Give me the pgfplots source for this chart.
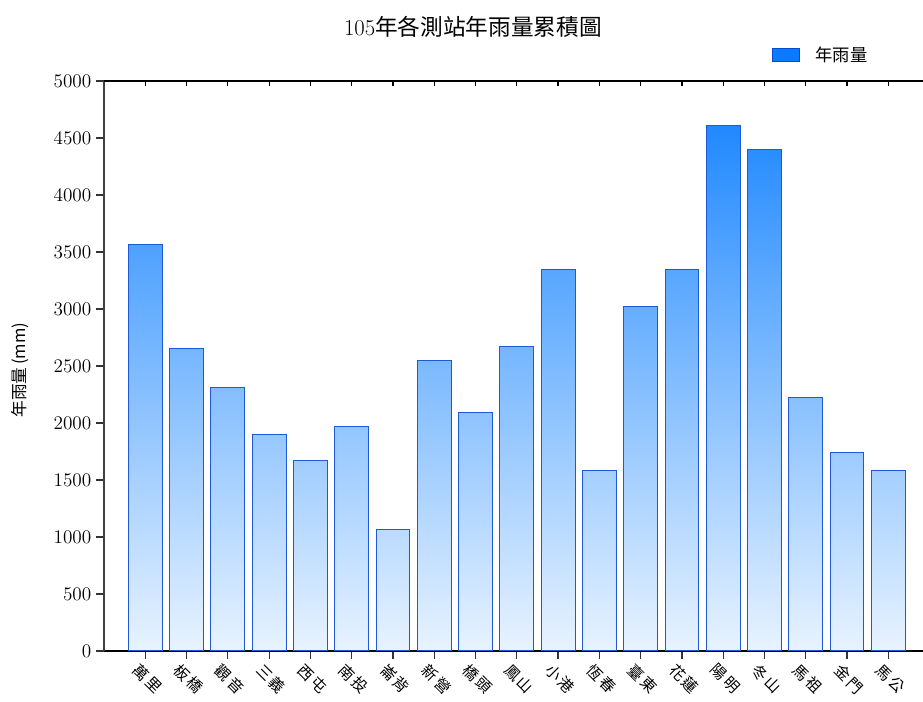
\documentclass[border=0pt]{standalone}
\usepackage{pgfplots}
\pgfplotsset{compat=1.18}
\usepackage{fontspec}
\newfontfamily\cjk{Noto Sans CJK TC}
\definecolor{barbot}{RGB}{232,243,255}
\definecolor{bartop}{RGB}{16,128,255}
\definecolor{baredge}{RGB}{30,90,215}
\definecolor{legfill}{RGB}{10,123,255}
\definecolor{legedge}{RGB}{10,75,205}
\pgfplotsset{rbar/.style={ybar, bar width=0.82, draw=baredge, line width=0.75pt, bottom color=barbot, top color=bartop!#1!barbot, forget plot}}
\begin{document}
\begin{tikzpicture}[x=1pt,y=1pt]
\path[use as bounding box] (0,0) rectangle (692.25,526.5);
\begin{axis}[
  scale only axis, width=614.25pt, height=427.5pt,
  at={(78pt,38.25pt)}, anchor=south west,
  xmin=-1, xmax=18.84, ymin=0, ymax=5000,
  axis x line*=bottom, axis y line*=left,
  axis line style={-},
  x axis line style={black, line width=1pt},
  y axis line style={black!75, line width=1.5pt},
  ytick={0,500,...,5000},
  scaled y ticks=false,
  yticklabel style={/pgf/number format/1000 sep={}, font=\fontsize{13.5}{14}\selectfont},
  xtick={0,...,18},
  xticklabels={萬\,里,板\,橋,觀\,音,三\,義,西\,屯,南\,投,崙\,背,新\,營,橋\,頭,鳳\,山,小\,港,恆\,春,臺\,東,花\,蓮,陽\,明,冬\,山,馬\,祖,金\,門,馬\,公},
  xticklabel style={font=\cjk\fontsize{11.5}{12}\selectfont, rotate=-45, anchor=north west, inner sep=1pt, xshift=-2pt, yshift=-3pt},
  tick align=outside, major tick length=6pt,
  tick style={black!80, line width=0.9pt},
  minor tick num=0,
  legend style={draw=none, fill=none, at={(axis description cs:0.812,1.07)}, anchor=north west,
    font=\cjk\fontsize{13}{13}\selectfont, inner sep=2pt},
  clip=false,
]
\addplot[rbar=71.3] coordinates {(0,3565)};
\addplot[rbar=53.0] coordinates {(1,2650)};
\addplot[rbar=46.3] coordinates {(2,2315)};
\addplot[rbar=37.9] coordinates {(3,1895)};
\addplot[rbar=33.4] coordinates {(4,1670)};
\addplot[rbar=39.3] coordinates {(5,1965)};
\addplot[rbar=21.4] coordinates {(6,1070)};
\addplot[rbar=50.9] coordinates {(7,2545)};
\addplot[rbar=41.9] coordinates {(8,2095)};
\addplot[rbar=53.5] coordinates {(9,2675)};
\addplot[rbar=66.9] coordinates {(10,3345)};
\addplot[rbar=31.7] coordinates {(11,1585)};
\addplot[rbar=60.4] coordinates {(12,3020)};
\addplot[rbar=66.9] coordinates {(13,3345)};
\addplot[rbar=92.2] coordinates {(14,4610)};
\addplot[rbar=87.9] coordinates {(15,4395)};
\addplot[rbar=44.4] coordinates {(16,2220)};
\addplot[rbar=34.9] coordinates {(17,1745)};
\addplot[rbar=31.7] coordinates {(18,1585)};
\addlegendimage{legend image code/.code={\draw[fill=legfill, draw=legedge, line width=1pt] (0pt,-5pt) rectangle (20pt,5pt); \path (30pt,0pt);}}
\addlegendentry{年雨量}
\end{axis}
\begin{axis}[
  scale only axis, width=614.25pt, height=427.5pt,
  at={(78pt,38.25pt)}, anchor=south west,
  xmin=-1, xmax=18.84, ymin=0, ymax=5000,
  axis x line*=top, axis y line=none,
  axis line style={-, black, line width=1pt},
  xtick={0,...,18}, xticklabels={}, ytick=\empty,
  tick align=inside, major tick length=3.5pt,
  tick style={black, line width=0.9pt},
]
\end{axis}
\node[font=\fontsize{17}{19}\selectfont] at (354.75,506.25) {105{\cjk 年各測站年雨量累積圖}};
\node[rotate=90, font=\cjk\fontsize{12.5}{13}\selectfont] at (15,249) {年雨量\,(mm)};
\end{tikzpicture}
\end{document}
